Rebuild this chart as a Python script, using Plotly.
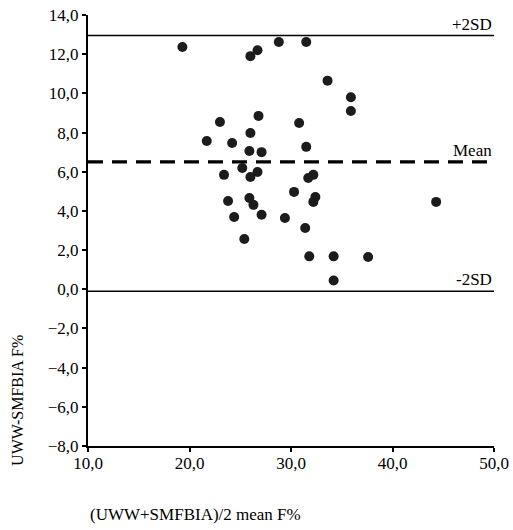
import plotly.graph_objects as go

mean_x = [19.3, 26.0, 26.7, 28.8, 31.5, 33.6, 35.9, 35.9, 23.0, 26.8, 30.8, 21.7, 24.2,
          26.0, 25.9, 27.1, 31.5, 25.2, 23.4, 26.0, 26.7, 31.7, 32.2, 30.3, 32.4, 32.2,
          23.8, 25.9, 26.3, 24.4, 27.1, 29.4, 31.4, 25.4, 31.8, 34.2, 37.6, 34.2, 44.3]
diff_y = [12.37, 11.9, 12.2, 12.62, 12.62, 10.65, 9.8, 9.1, 8.54, 8.85, 8.49, 7.57, 7.47,
          7.98, 7.06, 7.0, 7.27, 6.19, 5.84, 5.73, 5.99, 5.68, 5.84, 4.97, 4.71, 4.46,
          4.51, 4.66, 4.31, 3.69, 3.80, 3.64, 3.13, 2.57, 1.68, 1.68, 1.65, 0.45, 4.46]

ref_names = ["+2SD", "Mean", "-2SD"]
ref_values = [12.95, 6.5, -0.1]
ref_dash = ["solid", "15px,9px", "solid"]
ref_width = [1.6, 3.2, 1.6]

x_range = [10, 50]
y_range = [-8, 14]

FONT = "Liberation Serif"

fig = go.Figure()
for name, v, d, w in zip(ref_names, ref_values, ref_dash, ref_width):
    fig.add_trace(go.Scatter(x=x_range, y=[v, v], mode="lines",
                             line=dict(color="black", width=w, dash=d),
                             hoverinfo="skip", showlegend=False))
    fig.add_annotation(x=x_range[1], y=v, text=name, showarrow=False,
                       xanchor="right", yanchor="bottom", yshift=0,
                       font=dict(family=FONT, size=17, color="black"))

fig.add_trace(go.Scatter(x=mean_x, y=diff_y, mode="markers",
                         marker=dict(size=10, color="#1c1c1c",
                                     line=dict(width=0)),
                         showlegend=False))

fig.update_layout(
    width=513, height=530,
    margin=dict(l=88, r=19, t=15, b=84, autoexpand=False),
    plot_bgcolor="white", paper_bgcolor="white",
    separators=",.",
    font=dict(family=FONT, size=17, color="black"),
    xaxis=dict(range=x_range, tickvals=[10, 20, 30, 40, 50], tickformat=".1f",
               showgrid=False, zeroline=False, showline=True, linecolor="black",
               linewidth=2, ticks="outside", ticklen=4, tickwidth=2,
               tickcolor="black", tickfont=dict(family=FONT, size=17),
               ticklabelstandoff=-3),
    yaxis=dict(range=y_range, tickvals=list(range(-8, 15, 2)), tickformat=".1f",
               showgrid=False, zeroline=False, showline=True, linecolor="black",
               linewidth=2, ticks="outside", ticklen=4, tickwidth=2,
               tickcolor="black", tickfont=dict(family=FONT, size=17)),
    annotations=list(fig.layout.annotations) + [
        dict(text="UWW-SMFBIA F%", xref="paper", yref="paper", x=-0.172, y=0.105,
             xanchor="center", yanchor="middle", textangle=-90, showarrow=False,
             font=dict(family=FONT, size=16, color="black")),
        dict(text="(UWW+SMFBIA)/2 mean F%", xref="paper", yref="paper", x=0.0, y=-0.160,
             xanchor="left", yanchor="middle", showarrow=False,
             font=dict(family=FONT, size=17, color="black")),
    ],
)

fig.write_html("out.html")
